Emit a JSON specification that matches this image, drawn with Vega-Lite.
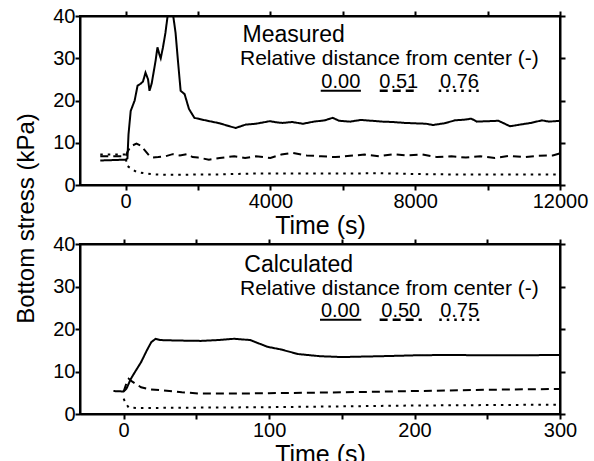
{
  "$schema": "https://vega.github.io/schema/vega-lite/v6.json",
  "padding": {"left": 14, "top": 5, "right": 5, "bottom": 0},
  "background": "white",
  "config": {
    "view": {"stroke": "black", "strokeWidth": 2},
    "axis": {
      "domainColor": "black", "domainWidth": 2, "tickColor": "black", "tickWidth": 2, "ticks": true, "zindex": 1,
      "labelFont": "Liberation Sans", "labelFontSize": 20, "labelColor": "black",
      "titleFont": "Liberation Sans", "titleFontSize": 25, "titleFontWeight": "normal", "titleColor": "black",
      "grid": false, "labelFlush": false, "labelOverlap": false
    },
    "text": {"font": "Liberation Sans", "color": "black"}
  },
  "title": {"text": "Bottom stress (kPa)", "orient": "left", "anchor": "middle", "fontSize": 24, "fontWeight": "normal", "font": "Liberation Sans", "color": "black", "offset": 13, "dx": 18},
  "datasets": {
    "meas": [
      {"s": "0.00", "t": -700, "v": 5.8}, {"s": "0.00", "t": 0, "v": 6.0}, {"s": "0.00", "t": 50, "v": 6.3}, {"s": "0.00", "t": 80, "v": 12},
      {"s": "0.00", "t": 140, "v": 17.5}, {"s": "0.00", "t": 250, "v": 20}, {"s": "0.00", "t": 330, "v": 23.5}, {"s": "0.00", "t": 420, "v": 24},
      {"s": "0.00", "t": 480, "v": 24.5}, {"s": "0.00", "t": 550, "v": 26.6}, {"s": "0.00", "t": 620, "v": 25}, {"s": "0.00", "t": 660, "v": 22.3},
      {"s": "0.00", "t": 720, "v": 24}, {"s": "0.00", "t": 830, "v": 29.5}, {"s": "0.00", "t": 880, "v": 32.6}, {"s": "0.00", "t": 930, "v": 31},
      {"s": "0.00", "t": 970, "v": 30}, {"s": "0.00", "t": 1030, "v": 32.5}, {"s": "0.00", "t": 1100, "v": 36}, {"s": "0.00", "t": 1160, "v": 40},
      {"s": "0.00", "t": 1230, "v": 45}, {"s": "0.00", "t": 1300, "v": 41}, {"s": "0.00", "t": 1380, "v": 36}, {"s": "0.00", "t": 1450, "v": 29},
      {"s": "0.00", "t": 1520, "v": 22.3}, {"s": "0.00", "t": 1630, "v": 21.5}, {"s": "0.00", "t": 1750, "v": 18}, {"s": "0.00", "t": 1900, "v": 15.9},
      {"s": "0.00", "t": 2100, "v": 15.5}, {"s": "0.00", "t": 2320, "v": 15.1}, {"s": "0.00", "t": 2600, "v": 14.6}, {"s": "0.00", "t": 2870, "v": 13.9},
      {"s": "0.00", "t": 3040, "v": 13.5}, {"s": "0.00", "t": 3320, "v": 14.3}, {"s": "0.00", "t": 3600, "v": 14.5}, {"s": "0.00", "t": 3980, "v": 15.1},
      {"s": "0.00", "t": 4200, "v": 14.8}, {"s": "0.00", "t": 4340, "v": 14.7}, {"s": "0.00", "t": 4600, "v": 14.9}, {"s": "0.00", "t": 4900, "v": 14.5},
      {"s": "0.00", "t": 5200, "v": 15.0}, {"s": "0.00", "t": 5500, "v": 15.3}, {"s": "0.00", "t": 5720, "v": 15.9}, {"s": "0.00", "t": 5900, "v": 15.2},
      {"s": "0.00", "t": 6200, "v": 15.0}, {"s": "0.00", "t": 6500, "v": 15.4}, {"s": "0.00", "t": 6800, "v": 15.2}, {"s": "0.00", "t": 7100, "v": 15.0},
      {"s": "0.00", "t": 7400, "v": 14.9}, {"s": "0.00", "t": 7700, "v": 14.7}, {"s": "0.00", "t": 8000, "v": 14.6}, {"s": "0.00", "t": 8300, "v": 14.5},
      {"s": "0.00", "t": 8490, "v": 14.2}, {"s": "0.00", "t": 8800, "v": 14.6}, {"s": "0.00", "t": 9100, "v": 15.3}, {"s": "0.00", "t": 9400, "v": 15.5},
      {"s": "0.00", "t": 9550, "v": 15.7}, {"s": "0.00", "t": 9700, "v": 15.0}, {"s": "0.00", "t": 10000, "v": 15.1}, {"s": "0.00", "t": 10300, "v": 15.2},
      {"s": "0.00", "t": 10620, "v": 13.9}, {"s": "0.00", "t": 10900, "v": 14.3}, {"s": "0.00", "t": 11200, "v": 14.7}, {"s": "0.00", "t": 11500, "v": 15.3},
      {"s": "0.00", "t": 11700, "v": 15.0}, {"s": "0.00", "t": 12000, "v": 15.2},
      {"s": "0.51", "t": -700, "v": 6.8}, {"s": "0.51", "t": 0, "v": 6.8}, {"s": "0.51", "t": 60, "v": 8}, {"s": "0.51", "t": 150, "v": 9.2},
      {"s": "0.51", "t": 300, "v": 9.8}, {"s": "0.51", "t": 420, "v": 9.3}, {"s": "0.51", "t": 520, "v": 8.3}, {"s": "0.51", "t": 650, "v": 7.0},
      {"s": "0.51", "t": 750, "v": 6.5}, {"s": "0.51", "t": 900, "v": 6.6}, {"s": "0.51", "t": 1100, "v": 6.8}, {"s": "0.51", "t": 1300, "v": 7.3},
      {"s": "0.51", "t": 1500, "v": 7.0}, {"s": "0.51", "t": 1700, "v": 7.3}, {"s": "0.51", "t": 1850, "v": 6.6}, {"s": "0.51", "t": 2000, "v": 6.5},
      {"s": "0.51", "t": 2300, "v": 6.0}, {"s": "0.51", "t": 2600, "v": 6.4}, {"s": "0.51", "t": 3000, "v": 6.8}, {"s": "0.51", "t": 3300, "v": 6.4},
      {"s": "0.51", "t": 3600, "v": 6.8}, {"s": "0.51", "t": 4000, "v": 6.4}, {"s": "0.51", "t": 4300, "v": 7.2}, {"s": "0.51", "t": 4600, "v": 7.6},
      {"s": "0.51", "t": 5000, "v": 7.0}, {"s": "0.51", "t": 5400, "v": 6.8}, {"s": "0.51", "t": 5800, "v": 6.6}, {"s": "0.51", "t": 6200, "v": 6.9},
      {"s": "0.51", "t": 6600, "v": 7.2}, {"s": "0.51", "t": 7000, "v": 6.8}, {"s": "0.51", "t": 7400, "v": 7.3}, {"s": "0.51", "t": 7800, "v": 7.0},
      {"s": "0.51", "t": 8200, "v": 7.2}, {"s": "0.51", "t": 8600, "v": 6.6}, {"s": "0.51", "t": 9000, "v": 6.8}, {"s": "0.51", "t": 9400, "v": 6.5},
      {"s": "0.51", "t": 9800, "v": 6.8}, {"s": "0.51", "t": 10200, "v": 6.4}, {"s": "0.51", "t": 10600, "v": 6.9}, {"s": "0.51", "t": 11000, "v": 6.6},
      {"s": "0.51", "t": 11400, "v": 6.9}, {"s": "0.51", "t": 11800, "v": 7.0}, {"s": "0.51", "t": 12000, "v": 7.5},
      {"s": "0.76", "t": -700, "v": 7.2}, {"s": "0.76", "t": 0, "v": 7.2}, {"s": "0.76", "t": 30, "v": 4.6}, {"s": "0.76", "t": 150, "v": 3.9},
      {"s": "0.76", "t": 300, "v": 3.1}, {"s": "0.76", "t": 500, "v": 2.8}, {"s": "0.76", "t": 800, "v": 2.5}, {"s": "0.76", "t": 1200, "v": 2.4},
      {"s": "0.76", "t": 1600, "v": 2.4}, {"s": "0.76", "t": 2000, "v": 2.5}, {"s": "0.76", "t": 2500, "v": 2.5}, {"s": "0.76", "t": 3000, "v": 2.6},
      {"s": "0.76", "t": 3500, "v": 2.7}, {"s": "0.76", "t": 4000, "v": 2.7}, {"s": "0.76", "t": 5000, "v": 2.7}, {"s": "0.76", "t": 6000, "v": 2.7},
      {"s": "0.76", "t": 7000, "v": 2.8}, {"s": "0.76", "t": 8000, "v": 2.6}, {"s": "0.76", "t": 9000, "v": 2.5}, {"s": "0.76", "t": 10000, "v": 2.5},
      {"s": "0.76", "t": 11000, "v": 2.5}, {"s": "0.76", "t": 12000, "v": 2.5}
    ],
    "calc": [
      {"s": "0.00", "t": -7, "v": 5.4}, {"s": "0.00", "t": 0, "v": 5.3}, {"s": "0.00", "t": 2, "v": 6.0}, {"s": "0.00", "t": 5, "v": 8.3},
      {"s": "0.00", "t": 8, "v": 10}, {"s": "0.00", "t": 12, "v": 12.2}, {"s": "0.00", "t": 16, "v": 15}, {"s": "0.00", "t": 19, "v": 16.9},
      {"s": "0.00", "t": 22, "v": 17.7}, {"s": "0.00", "t": 25, "v": 17.4}, {"s": "0.00", "t": 35, "v": 17.3}, {"s": "0.00", "t": 53, "v": 17.2},
      {"s": "0.00", "t": 65, "v": 17.4}, {"s": "0.00", "t": 76, "v": 17.7}, {"s": "0.00", "t": 87, "v": 17.4}, {"s": "0.00", "t": 99, "v": 15.8},
      {"s": "0.00", "t": 108, "v": 15.2}, {"s": "0.00", "t": 120, "v": 14.1}, {"s": "0.00", "t": 135, "v": 13.6}, {"s": "0.00", "t": 150, "v": 13.4},
      {"s": "0.00", "t": 177, "v": 13.6}, {"s": "0.00", "t": 200, "v": 13.8}, {"s": "0.00", "t": 223, "v": 13.9}, {"s": "0.00", "t": 250, "v": 13.8},
      {"s": "0.00", "t": 269, "v": 13.8}, {"s": "0.00", "t": 300, "v": 13.9},
      {"s": "0.50", "t": 0, "v": 5.3}, {"s": "0.50", "t": 1.5, "v": 6.8}, {"s": "0.50", "t": 3.5, "v": 8.3}, {"s": "0.50", "t": 6, "v": 7.6},
      {"s": "0.50", "t": 12, "v": 6.3}, {"s": "0.50", "t": 18, "v": 5.8}, {"s": "0.50", "t": 25, "v": 5.6}, {"s": "0.50", "t": 40, "v": 5.1},
      {"s": "0.50", "t": 53, "v": 4.8}, {"s": "0.50", "t": 75, "v": 4.8}, {"s": "0.50", "t": 100, "v": 4.9}, {"s": "0.50", "t": 150, "v": 5.1},
      {"s": "0.50", "t": 200, "v": 5.4}, {"s": "0.50", "t": 250, "v": 5.7}, {"s": "0.50", "t": 300, "v": 5.9},
      {"s": "0.75", "t": 0, "v": 3.6}, {"s": "0.75", "t": 1.5, "v": 2.5}, {"s": "0.75", "t": 3.5, "v": 1.5}, {"s": "0.75", "t": 10, "v": 1.4},
      {"s": "0.75", "t": 50, "v": 1.5}, {"s": "0.75", "t": 100, "v": 1.6}, {"s": "0.75", "t": 150, "v": 1.8}, {"s": "0.75", "t": 200, "v": 2.0},
      {"s": "0.75", "t": 250, "v": 2.1}, {"s": "0.75", "t": 300, "v": 2.2}
    ]
  },
  "spacing": -6,
  "resolve": {"scale": {"x": "independent", "y": "independent", "strokeDash": "independent", "strokeWidth": "independent"}},
  "vconcat": [
    {
      "width": 480, "height": 169,
      "resolve": {"axis": {"x": "independent", "y": "independent"}},
      "layer": [
        {
          "data": {"name": "meas"},
          "mark": {"type": "line", "clip": true, "color": "black", "strokeWidth": 2},
          "encoding": {
            "x": {"field": "t", "type": "quantitative", "scale": {"domain": [-1260, 12000], "nice": false, "zero": false},
                  "axis": {"orient": "bottom", "values": [0, 2000, 4000, 6000, 8000, 10000, 12000], "format": "d", "labelExpr": "datum.value % 4000 === 0 ? datum.label : ''", "title": "Time (s)", "tickSize": 5, "labelPadding": 1, "titlePadding": 2}},
            "y": {"field": "v", "type": "quantitative", "scale": {"domain": [0, 40], "nice": false},
                  "axis": {"orient": "left", "values": [0, 10, 20, 30, 40], "title": null, "tickSize": 5, "labelPadding": 0}},
            "strokeDash": {"field": "s", "type": "nominal", "scale": {"domain": ["0.00", "0.51", "0.76"], "range": [[1, 0], [8, 5], [2.5, 5]]}, "legend": null},
            "strokeWidth": {"field": "s", "type": "nominal", "scale": {"domain": ["0.00", "0.51", "0.76"], "range": [2, 2.8, 2.5]}, "legend": null}
          }
        },
        {
          "data": {"values": [{}]},
          "mark": {"type": "rule", "color": "black", "strokeWidth": 2},
          "encoding": {
            "x": {"datum": 5390, "type": "quantitative", "axis": {"orient": "top", "tickSize": 5, "values": [0, 2000, 4000, 6000, 8000, 10000, 12000], "labels": false, "title": null, "maxExtent": 0, "minExtent": 0}},
            "x2": {"datum": 6500},
            "y": {"datum": 22.3, "type": "quantitative", "axis": {"orient": "right", "tickSize": 5, "values": [0, 10, 20, 30, 40], "labels": false, "title": null, "maxExtent": 0, "minExtent": 0}}
          }
        },
        {
          "data": {"values": [{}]},
          "mark": {"type": "rule", "color": "black", "strokeWidth": 2.5, "strokeDash": [8, 5]},
          "encoding": {"x": {"datum": 7020, "type": "quantitative", "axis": null}, "x2": {"datum": 8070}, "y": {"datum": 22.3, "type": "quantitative", "axis": null}}
        },
        {
          "data": {"values": [{}]},
          "mark": {"type": "rule", "color": "black", "strokeWidth": 2.5, "strokeDash": [2.5, 5]},
          "encoding": {"x": {"datum": 8650, "type": "quantitative", "axis": null}, "x2": {"datum": 9790}, "y": {"datum": 22.3, "type": "quantitative", "axis": null}}
        },
        {
          "data": {"values": [{}]},
          "mark": {"type": "text", "text": "0.00", "fontSize": 20, "align": "center", "baseline": "alphabetic"},
          "encoding": {"x": {"datum": 5945, "type": "quantitative", "axis": null}, "y": {"datum": 23.0, "type": "quantitative", "axis": null}}
        },
        {
          "data": {"values": [{}]},
          "mark": {"type": "text", "text": "0.51", "fontSize": 20, "align": "center", "baseline": "alphabetic"},
          "encoding": {"x": {"datum": 7545, "type": "quantitative", "axis": null}, "y": {"datum": 23.0, "type": "quantitative", "axis": null}}
        },
        {
          "data": {"values": [{}]},
          "mark": {"type": "text", "text": "0.76", "fontSize": 20, "align": "center", "baseline": "alphabetic"},
          "encoding": {"x": {"datum": 9220, "type": "quantitative", "axis": null}, "y": {"datum": 23.0, "type": "quantitative", "axis": null}}
        },
        {
          "data": {"values": [{}]},
          "mark": {"type": "text", "text": "Measured", "fontSize": 23, "align": "left", "baseline": "alphabetic"},
          "encoding": {"x": {"datum": 3230, "type": "quantitative", "axis": null}, "y": {"datum": 33.8, "type": "quantitative", "axis": null}}
        },
        {
          "data": {"values": [{}]},
          "mark": {"type": "text", "text": "Relative distance from center (-)", "fontSize": 21, "align": "left", "baseline": "alphabetic"},
          "encoding": {"x": {"datum": 3160, "type": "quantitative", "axis": null}, "y": {"datum": 28.3, "type": "quantitative", "axis": null}}
        }
      ]
    },
    {
      "width": 480, "height": 170,
      "resolve": {"axis": {"x": "independent", "y": "independent"}},
      "layer": [
        {
          "data": {"name": "calc"},
          "mark": {"type": "line", "clip": true, "color": "black", "strokeWidth": 2},
          "encoding": {
            "x": {"field": "t", "type": "quantitative", "scale": {"domain": [-30, 300], "nice": false, "zero": false},
                  "axis": {"orient": "bottom", "values": [0, 50, 100, 150, 200, 250, 300], "format": "d", "labelExpr": "datum.value % 100 === 0 ? datum.label : ''", "title": "Time (s)", "tickSize": 5, "labelPadding": 1, "titlePadding": 2}},
            "y": {"field": "v", "type": "quantitative", "scale": {"domain": [0, 40], "nice": false},
                  "axis": {"orient": "left", "values": [0, 10, 20, 30, 40], "title": null, "tickSize": 5, "labelPadding": 0}},
            "strokeDash": {"field": "s", "type": "nominal", "scale": {"domain": ["0.00", "0.50", "0.75"], "range": [[1, 0], [8, 5], [2.5, 5]]}, "legend": null},
            "strokeWidth": {"field": "s", "type": "nominal", "scale": {"domain": ["0.00", "0.50", "0.75"], "range": [2, 2.8, 2.5]}, "legend": null}
          }
        },
        {
          "data": {"values": [{}]},
          "mark": {"type": "rule", "color": "black", "strokeWidth": 2},
          "encoding": {
            "x": {"datum": 135, "type": "quantitative", "axis": {"orient": "top", "tickSize": 5, "values": [0, 50, 100, 150, 200, 250, 300], "labels": false, "title": null, "maxExtent": 0, "minExtent": 0}},
            "x2": {"datum": 163.4},
            "y": {"datum": 22.2, "type": "quantitative", "axis": {"orient": "right", "tickSize": 5, "values": [0, 10, 20, 30, 40], "labels": false, "title": null, "maxExtent": 0, "minExtent": 0}}
          }
        },
        {
          "data": {"values": [{}]},
          "mark": {"type": "rule", "color": "black", "strokeWidth": 2.5, "strokeDash": [8, 5]},
          "encoding": {"x": {"datum": 176, "type": "quantitative", "axis": null}, "x2": {"datum": 205}, "y": {"datum": 22.2, "type": "quantitative", "axis": null}}
        },
        {
          "data": {"values": [{}]},
          "mark": {"type": "rule", "color": "black", "strokeWidth": 2.5, "strokeDash": [2.5, 5]},
          "encoding": {"x": {"datum": 217, "type": "quantitative", "axis": null}, "x2": {"datum": 245.5}, "y": {"datum": 22.2, "type": "quantitative", "axis": null}}
        },
        {
          "data": {"values": [{}]},
          "mark": {"type": "text", "text": "0.00", "fontSize": 20, "align": "center", "baseline": "alphabetic"},
          "encoding": {"x": {"datum": 149, "type": "quantitative", "axis": null}, "y": {"datum": 22.8, "type": "quantitative", "axis": null}}
        },
        {
          "data": {"values": [{}]},
          "mark": {"type": "text", "text": "0.50", "fontSize": 20, "align": "center", "baseline": "alphabetic"},
          "encoding": {"x": {"datum": 190.5, "type": "quantitative", "axis": null}, "y": {"datum": 22.8, "type": "quantitative", "axis": null}}
        },
        {
          "data": {"values": [{}]},
          "mark": {"type": "text", "text": "0.75", "fontSize": 20, "align": "center", "baseline": "alphabetic"},
          "encoding": {"x": {"datum": 231, "type": "quantitative", "axis": null}, "y": {"datum": 22.8, "type": "quantitative", "axis": null}}
        },
        {
          "data": {"values": [{}]},
          "mark": {"type": "text", "text": "Calculated", "fontSize": 23, "align": "left", "baseline": "alphabetic"},
          "encoding": {"x": {"datum": 83, "type": "quantitative", "axis": null}, "y": {"datum": 33.4, "type": "quantitative", "axis": null}}
        },
        {
          "data": {"values": [{}]},
          "mark": {"type": "text", "text": "Relative distance from center (-)", "fontSize": 21, "align": "left", "baseline": "alphabetic"},
          "encoding": {"x": {"datum": 80, "type": "quantitative", "axis": null}, "y": {"datum": 28.0, "type": "quantitative", "axis": null}}
        }
      ]
    }
  ]
}
